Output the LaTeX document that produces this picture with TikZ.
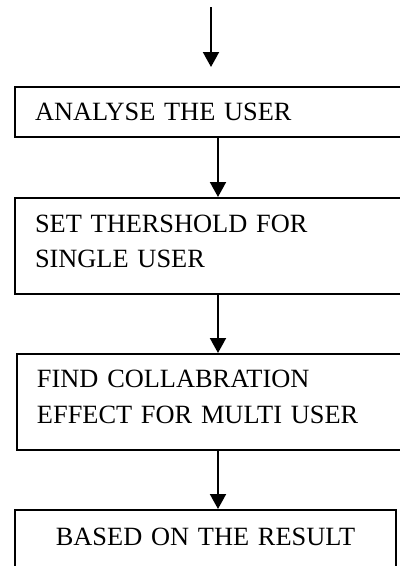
\documentclass[tikz,border=0pt]{standalone}
\usepackage{fontspec}
\setmainfont{Liberation Serif}
\usepackage{tikz}
\usetikzlibrary{arrows.meta,positioning}
\definecolor{flowblack}{RGB}{0,0,0}

\begin{document}
\begin{tikzpicture}[x=0.2mm, y=-0.2mm,
  stepbox/.style={draw=flowblack, line width=0.4mm, rectangle, anchor=north west,
    inner xsep=4mm, inner ysep=0pt, align=left, font=\fontsize{15}{20}\selectfont},
  flowarrow/.style={flowblack, line width=0.4mm, -{Triangle[length=3mm, width=3.2mm]}}]
\clip (0,0) rectangle (400,566);

% steps
\node[stepbox, text width=74mm, minimum height=10mm] (analyse) at (14,86) {ANALYSE THE USER};
\node[stepbox, text width=74mm, minimum height=19.2mm, text depth=8.8mm] (threshold) at (14,197)
  {SET THERSHOLD FOR\\ SINGLE USER};
\node[stepbox, text width=74mm, minimum height=19.2mm, text depth=9.1mm] (collab) at (16,353)
  {FIND COLLABRATION\\ EFFECT FOR MULTI USER};
\node[stepbox, text width=68.2mm, minimum height=12mm, text depth=1.2mm, align=center] (result) at (14,509)
  {BASED ON THE RESULT};

% connectors
\coordinate (entry) at (211,7);
\coordinate (axis) at (218,0);
\draw[flowarrow, shorten >=3.8mm] (entry) -- (entry |- analyse.north);
\draw[flowarrow] (analyse.south -| axis) -- (threshold.north -| axis);
\draw[flowarrow] (threshold.south -| axis) -- (collab.north -| axis);
\draw[flowarrow] (collab.south -| axis) -- (result.north -| axis);
\end{tikzpicture}
\end{document}
